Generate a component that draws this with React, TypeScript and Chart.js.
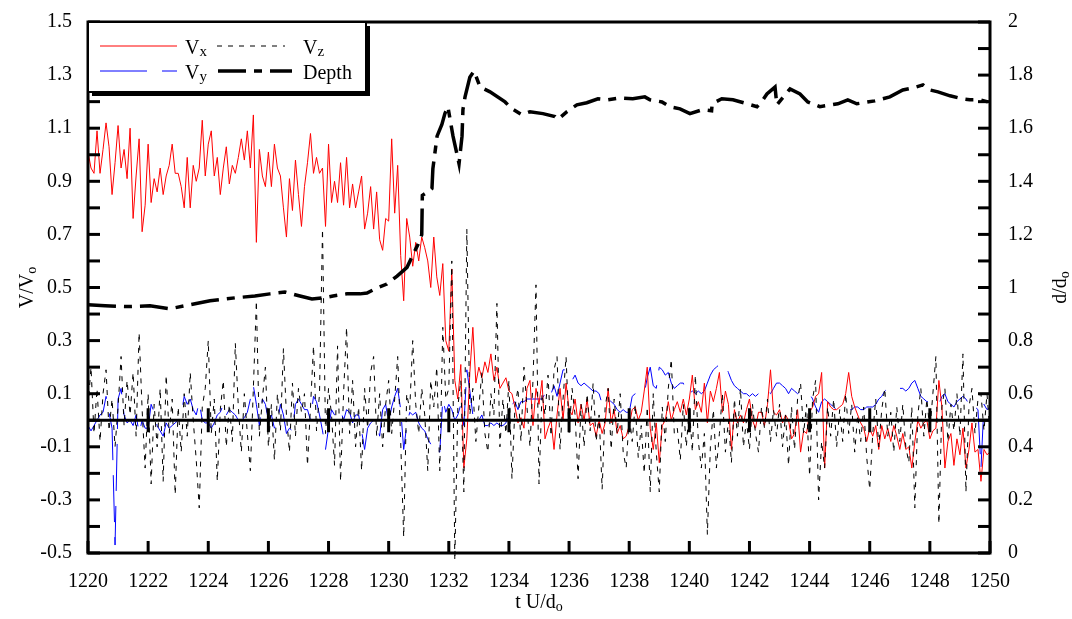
import React, { useEffect, useRef } from "react";
import { Chart, registerables } from "chart.js";

Chart.register(...registerables);

// time grid of the velocity records
const T0 = 1220;
const DT = 0.1;

const xTickStep = 2;

const vx = [
  1.01, 0.95, 0.93, 1.09, 0.93, 1.02, 1.12, 1.03, 0.85, 0.97,
  1.11, 0.95, 1.02, 0.91, 1.10, 0.76, 0.92, 1.06, 0.71, 0.81,
  1.04, 0.82, 0.91, 0.86, 0.95, 0.85, 0.92, 0.96, 1.04, 0.93,
  0.93, 0.88, 0.80, 0.99, 0.80, 0.96, 0.90, 0.95, 1.13, 0.92,
  1.04, 1.09, 0.92, 0.99, 0.85, 0.95, 1.03, 0.89, 0.96, 0.93,
  0.99, 1.06, 0.98, 1.09, 0.95, 1.15, 0.67, 1.02, 0.92, 0.88,
  1.01, 0.88, 1.04, 0.95, 0.92, 0.80, 0.69, 0.91, 0.79, 0.98,
  0.85, 0.73, 0.88, 0.97, 1.08, 0.93, 0.99, 0.93, 0.95, 0.73,
  1.04, 0.82, 0.90, 0.82, 0.97, 0.81, 0.99, 0.80, 0.89, 0.80,
  0.86, 0.92, 0.72, 0.78, 0.88, 0.72, 0.86, 0.68, 0.64, 0.76,
  0.75, 1.06, 0.78, 0.96, 0.62, 0.45, 0.76, 0.69, 0.58, 0.67,
  0.60, 0.69, 0.65, 0.60, 0.50, 0.69, 0.54, 0.47, 0.59, 0.30,
  0.26, 0.57, 0.15, 0.08, 0.21, -0.18, -0.07, 0.18, 0.35, 0.14,
  0.20, 0.16, 0.22, 0.18, 0.25, 0.15, 0.20, 0.12, 0.14, 0.16,
  0.11, 0.10, 0.05, -0.01, 0.01, -0.03, 0.12, 0.15, -0.02, 0.12,
  0.06, 0.15, -0.07, -0.03, 0.00, -0.11, 0.02, 0.12, 0.00, 0.14,
  0.04, 0.02, 0.08, -0.01, 0.06, 0.00, 0.08, -0.02, -0.01, -0.06,
  0.00, -0.05, -0.01, 0.12, -0.01, 0.04, -0.05, -0.02, -0.07, -0.06,
  -0.02, 0.04, 0.05, 0.00, 0.03, 0.11, 0.20, -0.03, -0.11, -0.01,
  -0.16, -0.02, 0.00, 0.07, 0.00, 0.04, 0.07, 0.03, 0.08, 0.02,
  0.08, 0.17, 0.04, 0.07, 0.03, 0.14, -0.01, 0.11, 0.07, 0.12,
  0.18, 0.03, 0.11, 0.06, -0.11, 0.04, -0.01, 0.02, -0.01, 0.04,
  0.08, 0.00, -0.03, 0.03, 0.03, -0.02, 0.06, 0.19, 0.03, 0.02,
  0.04, -0.01, 0.02, 0.00, -0.07, -0.05, 0.04, -0.12, -0.04, -0.05,
  0.03, 0.05, 0.09, 0.10, 0.18, -0.18, 0.07, 0.05, 0.04, 0.04,
  0.05, 0.06, 0.10, 0.18, 0.09, 0.05, 0.02, -0.01, -0.03, -0.08,
  -0.03, -0.06, -0.02, -0.11, -0.02, -0.07, -0.03, -0.08, -0.02, -0.06,
  -0.11, -0.05, -0.11, -0.10, -0.18, -0.08, 0.00, -0.03, -0.01, 0.00,
  -0.07, -0.04, -0.03, 0.15, 0.05, -0.18, -0.08, -0.05, -0.17, -0.07,
  -0.13, -0.03, -0.18, -0.11, -0.01, -0.12, -0.11, -0.23, -0.11, -0.13,
  -0.12,
];

const vy = [
  -0.02, -0.04, -0.02, 0.00, 0.02, 0.03, 0.09, 0.03, -0.03, -0.47,
  0.08, 0.12, 0.02, -0.01, 0.00, -0.02, 0.02, -0.05, 0.00, -0.03,
  -0.03, 0.06, 0.03, -0.02, -0.04, -0.06, -0.01, -0.03, -0.02, -0.01,
  0.00, 0.02, 0.09, 0.06, 0.08, 0.04, 0.02, 0.07, 0.00, -0.01,
  -0.01, -0.03, -0.01, 0.02, 0.03, 0.06, 0.02, 0.04, 0.03, 0.02,
  0.00, 0.00, 0.01, 0.03, 0.08, 0.13, 0.06, -0.02, 0.08, 0.06,
  0.00, 0.02, -0.03, -0.01, 0.06, 0.02, -0.05, -0.03, -0.04, 0.06,
  0.08, 0.06, 0.04, 0.04, 0.00, 0.09, 0.07, 0.02, -0.04, -0.11,
  -0.03, 0.04, 0.02, 0.02, 0.04, 0.00, 0.04, 0.03, -0.01, 0.02,
  0.02, -0.04, -0.11, -0.03, -0.01, 0.00, -0.01, -0.06, 0.04, 0.06,
  -0.01, 0.05, 0.09, 0.12, 0.04, -0.11, -0.02, 0.03, 0.02, 0.03,
  -0.01, -0.03, -0.04, -0.07, -0.09, -0.08, -0.11, -0.12, 0.08, 0.03,
  0.06, 0.04, 0.00, 0.02, 0.06, -0.02, 0.19, 0.11, 0.02, -0.01,
  0.00, 0.02, -0.02, -0.02, -0.01, -0.02, -0.01, -0.02, -0.02, -0.01,
  0.03, 0.06, 0.07, 0.04, 0.07, 0.07, 0.08, 0.08, 0.08, 0.08,
  0.08, 0.08, 0.10, 0.12, 0.10, 0.13, 0.09, 0.14, 0.19, 0.19,
  0.17, 0.15, 0.17, 0.14, 0.13, 0.14, 0.13, 0.12, 0.11, 0.11,
  0.10, 0.06, 0.07, 0.08, 0.07, 0.06, 0.04, 0.03, 0.04, 0.03,
  0.03, 0.09, 0.10, 0.10, 0.10, 0.10, 0.16, 0.20, 0.13, 0.12,
  0.20, 0.19, 0.17, 0.18, 0.14, 0.12, 0.13, 0.14, 0.14, 0.10,
  0.10, 0.11, 0.10, 0.11, 0.10, 0.11, 0.14, 0.17, 0.19, 0.20,
  0.21, 0.21, 0.21, 0.18, 0.15, 0.13, 0.12, 0.11, 0.10, 0.10,
  0.09, 0.10, 0.09, 0.10, 0.11, 0.12, 0.11, 0.10, 0.12, 0.14,
  0.14, 0.13, 0.12, 0.10, 0.12, 0.11, 0.10, 0.11, 0.10, 0.10,
  0.10, 0.08, 0.05, 0.03, 0.07, 0.08, 0.07, 0.06, 0.05, 0.04,
  0.04, 0.04, 0.04, 0.04, 0.04, 0.05, 0.05, 0.04, 0.04, 0.05,
  0.05, 0.05, 0.06, 0.08, 0.09, 0.11, 0.12, 0.12, 0.12, 0.12,
  0.12, 0.12, 0.11, 0.12, 0.14, 0.15, 0.12, 0.09, 0.08, 0.07,
  0.07, 0.07, 0.07, 0.06, 0.09, 0.10, 0.07, 0.06, 0.05, 0.07,
  0.08, 0.09, 0.08, 0.06, 0.07, 0.05, 0.04, -0.18, 0.06, 0.04,
  0.05,
];

const vz = [
  0.05, 0.20, -0.05, 0.12, -0.08, 0.10, 0.19, -0.04, 0.08, -0.10,
  0.05, 0.24, -0.02, 0.15, 0.02, 0.18, -0.06, 0.33, 0.04, -0.18,
  0.10, -0.24, 0.06, -0.10, 0.12, -0.23, 0.17, -0.05, 0.08, -0.28,
  0.05, -0.12, 0.10, -0.06, 0.18, 0.00, -0.15, -0.33, 0.05, 0.12,
  0.30, -0.05, 0.08, -0.23, 0.04, 0.15, -0.10, 0.06, -0.08, 0.29,
  0.05, -0.12, 0.10, -0.05, -0.19, 0.12, 0.45, -0.06, 0.08, 0.20,
  -0.10, 0.06, -0.15, 0.10, -0.04, 0.27, 0.02, -0.12, 0.14, -0.06,
  0.12, 0.03, 0.10, -0.17, 0.05, 0.28, -0.04, 0.10, 0.72, -0.05,
  0.12, 0.02, -0.17, 0.28, -0.23, 0.10, 0.35, -0.05, 0.15, -0.10,
  0.05, -0.19, 0.12, -0.03, 0.18, 0.24, -0.06, 0.10, -0.10, 0.06,
  0.15, -0.05, 0.08, 0.24, -0.08, -0.44, 0.10, 0.04, 0.30, 0.06,
  -0.05, 0.12, 0.02, -0.19, 0.15, 0.05, 0.20, -0.19, 0.35, 0.08,
  0.12, 0.60, -0.53, 0.05, 0.15, -0.27, 0.72, 0.02, 0.12, -0.08,
  0.05, 0.18, -0.05, -0.12, 0.10, 0.02, 0.44, -0.10, 0.08, -0.05,
  0.15, -0.22, 0.05, 0.12, -0.08, 0.20, 0.05, -0.10, 0.15, 0.51,
  -0.24, 0.10, 0.02, 0.17, -0.06, 0.19, 0.24, -0.11, 0.08, 0.24,
  -0.05, 0.12, 0.02, -0.22, 0.06, -0.10, 0.10, -0.04, 0.14, -0.08,
  0.02, -0.26, 0.05, 0.12, -0.11, 0.08, -0.05, 0.10, -0.12, -0.18,
  0.02, -0.08, 0.06, -0.14, -0.02, -0.20, 0.05, -0.27, 0.10, -0.12,
  -0.27, 0.05, -0.08, 0.12, 0.23, -0.05, -0.03, -0.15, 0.06, -0.10,
  0.05, -0.12, 0.17, -0.08, -0.18, -0.05, -0.43, -0.10, 0.04, -0.18,
  -0.05, 0.10, -0.12, 0.00, -0.16, 0.08, -0.06, 0.12, -0.10, 0.00,
  -0.11, 0.06, -0.05, -0.12, 0.05, -0.03, 0.08, -0.08, 0.04, -0.06,
  0.06, -0.10, 0.02, -0.17, 0.05, -0.11, 0.08, 0.14, -0.05, 0.06,
  -0.21, 0.08, 0.15, -0.30, -0.08, -0.18, 0.05, -0.06, 0.08, -0.10,
  0.04, -0.08, 0.10, -0.05, 0.06, -0.12, 0.02, -0.08, 0.05, -0.14,
  -0.26, -0.05, 0.08, -0.10, 0.04, 0.12, -0.06, 0.03, -0.12, 0.05,
  -0.08, 0.06, -0.10, -0.16, 0.05, -0.33, 0.02, 0.12, -0.06, 0.08,
  -0.04, 0.10, 0.24, -0.39, 0.05, 0.12, -0.08, 0.06, -0.04, 0.10,
  -0.06, 0.25, -0.27, 0.05, 0.12, -0.05, 0.08, 0.10, -0.04, 0.10,
  -0.05,
];

const depthT = [
  1220.0, 1220.57, 1221.23, 1222.06, 1222.73, 1223.39, 1224.06, 1224.89, 1225.55, 1226.05,
  1226.55, 1227.05, 1227.45, 1227.81, 1228.15, 1228.61, 1229.05, 1229.28, 1229.61, 1229.94,
  1230.28, 1230.61, 1230.81, 1230.97, 1231.1, 1231.12, 1231.27, 1231.44, 1231.47, 1231.61,
  1231.77, 1231.87, 1231.97, 1232.14, 1232.27, 1232.34, 1232.44, 1232.47, 1232.54, 1232.7,
  1232.84, 1233.04, 1233.37, 1233.87, 1234.1, 1234.43, 1234.7, 1235.13, 1235.53, 1235.63,
  1235.93, 1236.26, 1236.59, 1236.96, 1237.29, 1237.69, 1238.12, 1238.52, 1238.69, 1239.09,
  1239.35, 1239.69, 1240.02, 1240.45, 1240.74, 1240.76, 1241.08, 1241.45, 1241.92, 1242.25,
  1242.45, 1242.58, 1242.85, 1242.91, 1243.35, 1243.68, 1243.94, 1244.34, 1244.94, 1245.27,
  1245.57, 1246.17, 1246.67, 1247.1, 1247.44, 1247.77, 1248.0, 1248.27, 1248.67, 1249.07,
  1249.33, 1249.66, 1249.93,
];

const depthD = [
  0.935, 0.931, 0.928, 0.931, 0.92, 0.935, 0.95, 0.961, 0.968, 0.976,
  0.983, 0.968, 0.957, 0.961, 0.968, 0.976, 0.976, 0.979, 0.998, 1.013,
  1.043, 1.076, 1.124, 1.161, 1.199, 1.347, 1.358, 1.373, 1.447, 1.57,
  1.614, 1.655, 1.681, 1.57, 1.503, 1.466, 1.57, 1.67, 1.718, 1.792,
  1.815, 1.755, 1.737, 1.699, 1.673, 1.651, 1.662, 1.655, 1.644, 1.633,
  1.662, 1.688, 1.696, 1.711, 1.707, 1.714, 1.711, 1.718, 1.707, 1.699,
  1.681, 1.673, 1.655, 1.67, 1.666, 1.692, 1.711, 1.707, 1.692, 1.681,
  1.707, 1.729, 1.755, 1.688, 1.748, 1.729, 1.699, 1.681, 1.692, 1.707,
  1.692, 1.703, 1.718, 1.744, 1.752, 1.763, 1.744, 1.737, 1.722, 1.711,
  1.707, 1.707, 1.699,
];

const FONT = '"Liberation Serif", "Times New Roman", serif';
const TICK_FONT_SIZE = 20;

type Part = { t: string; sub?: boolean };

function textWidth(ctx: CanvasRenderingContext2D, parts: Part[], size: number, subSize: number) {
  let w = 0;
  for (const p of parts) {
    ctx.font = `${p.sub ? subSize : size}px ${FONT}`;
    w += ctx.measureText(p.t).width;
  }
  return w;
}

function drawParts(
  ctx: CanvasRenderingContext2D,
  parts: Part[],
  x: number,
  baseline: number,
  size: number,
  subSize: number,
  subDrop: number
) {
  let cx = x;
  ctx.textAlign = "left";
  ctx.textBaseline = "alphabetic";
  for (const p of parts) {
    ctx.font = `${p.sub ? subSize : size}px ${FONT}`;
    ctx.fillText(p.t, cx, baseline + (p.sub ? subDrop : 0));
    cx += ctx.measureText(p.t).width;
  }
}

function sample(ctx: CanvasRenderingContext2D, x1: number, x2: number, y: number, color: string, width: number, dash: number[]) {
  ctx.save();
  ctx.strokeStyle = color;
  ctx.lineWidth = width;
  ctx.setLineDash(dash);
  ctx.beginPath();
  ctx.moveTo(x1, y);
  ctx.lineTo(x2, y);
  ctx.stroke();
  ctx.restore();
}

const DEPTH_DASH = [28, 8, 8, 8];
const VZ_DASH = [5, 6];
const VY_DASH = [47, 15];

const decorPlugin = {
  id: "decor",
  afterDatasetsDraw(chart: any) {
    const { ctx, chartArea: ca, scales } = chart;
    const xs = scales.x;
    const ys = scales.y;
    const ys1 = scales.y1;
    ctx.save();
    ctx.strokeStyle = "#000";
    ctx.lineWidth = 3;
    ctx.setLineDash([]);
    const seg = (a: number, b: number, c: number, d: number) => {
      ctx.beginPath();
      ctx.moveTo(a, b);
      ctx.lineTo(c, d);
      ctx.stroke();
    };
    // zero line with its own ticks
    const y0 = ys.getPixelForValue(0);
    seg(ca.left, y0, ca.right, y0);
    xs.ticks.forEach((t: any) => {
      if (t.value > xs.min && t.value < xs.max) {
        const px = xs.getPixelForValue(t.value);
        seg(px, y0 - 12, px, y0 + 12);
      }
    });
    // inward ticks
    xs.ticks.forEach((t: any) => {
      const px = xs.getPixelForValue(t.value);
      seg(px, ca.bottom, px, ca.bottom - 12);
    });
    ys.ticks.forEach((t: any) => {
      const py = ys.getPixelForValue(t.value);
      seg(ca.left, py, ca.left + 12, py);
    });
    ys1.ticks.forEach((t: any) => {
      const py = ys1.getPixelForValue(t.value);
      seg(ca.right, py, ca.right - 12, py);
    });
    // frame
    ctx.strokeRect(ca.left, ca.top, ca.right - ca.left, ca.bottom - ca.top);

    // legend box with shadow
    const bx = ca.left;
    const by = ca.top;
    const bw = 278;
    const bh = 70;
    ctx.fillStyle = "#000";
    ctx.fillRect(bx + 4, by + 4, bw, bh);
    ctx.fillStyle = "#fff";
    ctx.fillRect(bx, by, bw, bh);
    ctx.lineWidth = 2;
    ctx.strokeRect(bx, by, bw, bh);

    const r1 = by + 24;
    const r2 = by + 49;
    sample(ctx, bx + 12, bx + 89, r1, "#ff0000", 1, []);
    sample(ctx, bx + 12, bx + 89, r2, "#0000ff", 1, VY_DASH);
    sample(ctx, bx + 129, bx + 197, r1, "#000", 1, VZ_DASH);
    sample(ctx, bx + 130, bx + 204, r2, "#000", 3.5, DEPTH_DASH);
    ctx.fillStyle = "#000";
    drawParts(ctx, [{ t: "V" }, { t: "x", sub: true }], bx + 97, r1 + 8, 20, 15, 2);
    drawParts(ctx, [{ t: "V" }, { t: "y", sub: true }], bx + 97, r2 + 8, 20, 15, 2);
    drawParts(ctx, [{ t: "V" }, { t: "z", sub: true }], bx + 215, r1 + 8, 20, 15, 2);
    drawParts(ctx, [{ t: "Depth" }], bx + 215, r2 + 8, 20, 15, 2);
    ctx.restore();
  },
  afterDraw(chart: any) {
    const { ctx, chartArea: ca } = chart;
    ctx.save();
    ctx.fillStyle = "#000";
    // bottom title
    const bParts: Part[] = [{ t: "t U/d" }, { t: "o", sub: true }];
    const bw = textWidth(ctx, bParts, 20, 14);
    const cx = (ca.left + ca.right) / 2;
    drawParts(ctx, bParts, cx - bw / 2, 608, 20, 14, 3);
    // left title
    const lParts: Part[] = [{ t: "V/V" }, { t: "o", sub: true }];
    const lw = textWidth(ctx, lParts, 20, 14);
    const cy = (ca.top + ca.bottom) / 2;
    ctx.save();
    ctx.translate(26, cy);
    ctx.rotate(-Math.PI / 2);
    drawParts(ctx, lParts, -lw / 2, 7, 20, 14, 3);
    ctx.restore();
    // right title
    const rParts: Part[] = [{ t: "d/d" }, { t: "o", sub: true }];
    const rw = textWidth(ctx, rParts, 20, 14);
    ctx.save();
    ctx.translate(1059, cy);
    ctx.rotate(-Math.PI / 2);
    drawParts(ctx, rParts, -rw / 2, 7, 20, 14, 3);
    ctx.restore();
    ctx.restore();
  },
};

export default function App() {
  const ref = useRef<HTMLCanvasElement | null>(null);
  useEffect(() => {
    if (!ref.current) return;
    const times = vx.map((_, i) => Math.round((T0 + i * DT) * 10) / 10);
    const pts = (vals: number[]) => vals.map((v, i) => ({ x: times[i], y: v }));
    const depthPts = depthT.map((t, i) => ({ x: t, y: depthD[i] }));
    const tickFont = { family: FONT, size: TICK_FONT_SIZE };
    const chart = new Chart(ref.current, {
      type: "line",
      data: {
        datasets: [
          {
            label: "Depth",
            data: depthPts,
            yAxisID: "y1",
            borderColor: "#000",
            borderWidth: 3.5,
            borderDash: DEPTH_DASH,
            pointRadius: 0,
            fill: false,
          },
          {
            label: "Vz",
            data: pts(vz),
            yAxisID: "y",
            borderColor: "#000",
            borderWidth: 1,
            borderDash: VZ_DASH,
            pointRadius: 0,
            fill: false,
            clip: { left: 0, right: 0, top: 0, bottom: 6 },
          },
          {
            label: "Vx",
            data: pts(vx),
            yAxisID: "y",
            borderColor: "#ff0000",
            borderWidth: 1,
            pointRadius: 0,
            fill: false,
          },
          {
            label: "Vy",
            data: pts(vy),
            yAxisID: "y",
            borderColor: "#0000ff",
            borderWidth: 1,
            borderDash: VY_DASH,
            pointRadius: 0,
            fill: false,
          },
        ],
      },
      options: {
        animation: false,
        responsive: false,
        events: [],
        layout: { padding: { top: 14, left: 0, right: 0, bottom: 0 } },
        plugins: { legend: { display: false }, tooltip: { enabled: false } },
        elements: { line: { tension: 0 } },
        scales: {
          x: {
            type: "linear",
            position: "bottom",
            min: 1220,
            max: 1250,
            grid: { display: false },
            border: { display: false },
            ticks: {
              stepSize: xTickStep,
              color: "#000",
              font: tickFont,
              padding: 9,
              maxRotation: 0,
              autoSkip: false,
              callback: (v: any) => String(v),
            },
            afterFit: (s: any) => {
              s.height = 66;
            },
          },
          y: {
            type: "linear",
            position: "left",
            min: -0.5,
            max: 1.5,
            grid: { display: false },
            border: { display: false },
            ticks: {
              stepSize: 0.1,
              color: "#000",
              font: tickFont,
              padding: 8,
              autoSkip: false,
              callback: (v: any) => {
                const k = Math.round(Number(v) * 10);
                return k % 2 !== 0 ? (k / 10).toFixed(1) : "";
              },
            },
            afterFit: (s: any) => {
              s.width = 88;
            },
          },
          y1: {
            type: "linear",
            position: "right",
            min: 0,
            max: 2,
            grid: { display: false },
            border: { display: false },
            ticks: {
              stepSize: 0.1,
              color: "#000",
              font: tickFont,
              padding: 10,
              autoSkip: false,
              callback: (v: any) => {
                const k = Math.round(Number(v) * 10);
                return k % 2 === 0 ? String(k / 10) : "";
              },
            },
            afterFit: (s: any) => {
              s.width = 82;
            },
          },
        },
      },
      plugins: [decorPlugin],
    });
    return () => chart.destroy();
  }, []);
  return (
    <div style={{ position: "fixed", left: 0, top: 0, width: 1072, height: 619, background: "#fff" }}>
      <canvas ref={ref} width={1072} height={619} style={{ display: "block", width: 1072, height: 619 }} />
    </div>
  );
}
